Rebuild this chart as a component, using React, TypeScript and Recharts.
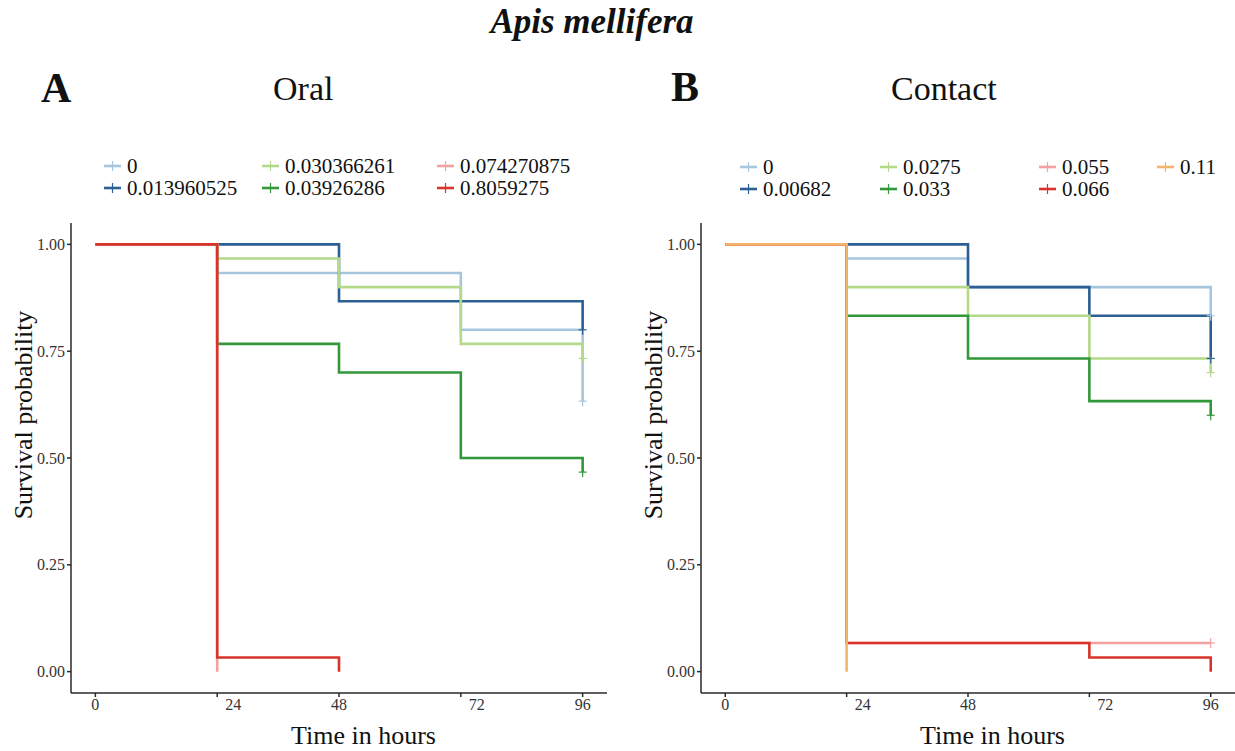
import React from "react";
import { LineChart, Line, XAxis, YAxis, Label } from "recharts";

const FONT = "'Liberation Serif', 'Times New Roman', Times, serif";

// time points (hours)
const TIME_HOURS = [0, 24, 48, 72, 96];
const SURV_TICKS = [0, 0.25, 0.5, 0.75, 1];

// A - Oral doses
const ORAL_LABELS = ["0", "0.013960525", "0.030366261", "0.03926286", "0.074270875", "0.8059275"];
const ORAL_0 = [1, 0.933, 0.933, 0.8, 0.633];
const ORAL_1 = [1, 1, 0.867, 0.867, 0.8];
const ORAL_2 = [1, 0.967, 0.9, 0.767, 0.733];
const ORAL_3 = [1, 0.767, 0.7, 0.5, 0.467];
const ORAL_4 = [1, 0, null, null, null];
const ORAL_5 = [1, 0.033, 0, null, null];

// B - Contact doses
const CONTACT_LABELS = ["0", "0.00682", "0.0275", "0.033", "0.055", "0.066", "0.11"];
const CONTACT_0 = [1, 0.967, 0.9, 0.9, 0.833];
const CONTACT_1 = [1, 1, 0.9, 0.833, 0.733];
const CONTACT_2 = [1, 0.9, 0.833, 0.733, 0.7];
const CONTACT_3 = [1, 0.833, 0.733, 0.633, 0.6];
const CONTACT_4 = [1, 0.067, 0.067, 0.067, 0.067];
const CONTACT_5 = [1, 0.067, 0.067, 0.033, 0];
const CONTACT_6 = [1, 0, null, null, null];

const COLORS = ["#a6c6de", "#2c5f93", "#b3d98a", "#32983a", "#f4a0a0", "#d8342c", "#f4b46e"];

type Series = (number | null)[];

const buildRows = (series: Series[]) =>
  TIME_HOURS.map((t, i) => {
    const row: Record<string, number | null> = { t };
    series.forEach((s, k) => {
      row["s" + k] = s[i];
    });
    return row;
  });

// censor mark ("+") at 96 h for the curves that still have survivors
const censorDot = (color: string, values: Series) => (props: any) => {
  const { cx, cy, index } = props;
  const last = values.length - 1;
  if (index !== last || values[last] == null || values[last] === 0 || cx == null) {
    return <g key={"d" + index} />;
  }
  return (
    <g key={"d" + index} stroke={color} strokeWidth={1.2}>
      <line x1={cx - 4} x2={cx + 4} y1={cy} y2={cy} />
      <line x1={cx} x2={cx} y1={cy - 5} y2={cy + 5} />
    </g>
  );
};

const TimeTick = (props: any) => {
  const { x, y, payload } = props;
  const shift = payload.value === 24 || payload.value === 72 ? 16 : 0;
  return (
    <text x={x + shift} y={y} dy="0.71em" textAnchor="middle" fontSize={16} fill="#333" fontFamily={FONT}>
      {payload.value}
    </text>
  );
};

const XTitle = (props: any) => {
  const vb = props.viewBox || { x: 71, y: 693, width: 536, height: 58 };
  return (
    <text x={vb.x + vb.width / 2 + 24.5} y={vb.y + 51} textAnchor="middle" fontSize={26} fill="#111" fontFamily={FONT}>
      Time in hours
    </text>
  );
};

const YTitle = (props: any) => {
  const vb = props.viewBox || { x: 0 };
  const x = vb.x + 32;
  const y = 415;
  return (
    <text x={x} y={y} transform={`rotate(-90, ${x}, ${y})`} textAnchor="middle" fontSize={26} fill="#111" fontFamily={FONT}>
      Survival probability
    </text>
  );
};

type PanelProps = { series: Series[]; colorIdx: number[]; left: number; width: number };

const SurvivalPanel = ({ series, colorIdx, left, width }: PanelProps) => (
  <div style={{ position: "absolute", left, top: 0 }}>
    <LineChart width={width} height={751} data={buildRows(series)} margin={{ top: 223, right: 0, bottom: 0, left: 0 }}>
      <XAxis
        dataKey="t"
        type="number"
        domain={[-4.8, 100.8]}
        ticks={TIME_HOURS}
        height={58}
        stroke="#2a2a2a"
        strokeWidth={1.5}
        tickSize={4}
        tickMargin={2}
        tick={<TimeTick />}
        tickLine={{ stroke: "#2a2a2a" }}
      >
        <Label content={<XTitle />} />
      </XAxis>
      <YAxis
        type="number"
        domain={[-0.05, 1.05]}
        ticks={SURV_TICKS}
        width={71}
        stroke="#2a2a2a"
        strokeWidth={1.5}
        tickSize={4}
        tickMargin={2}
        tickFormatter={(v: number) => v.toFixed(2)}
        tick={{ fontSize: 16, fill: "#333", fontFamily: FONT }}
      >
        <Label content={<YTitle />} />
      </YAxis>
      {series.map((s, k) => (
        <Line
          key={k}
          dataKey={"s" + k}
          type="stepAfter"
          stroke={COLORS[colorIdx[k]]}
          strokeWidth={2.6}
          dot={censorDot(COLORS[colorIdx[k]], s)}
          activeDot={false}
          isAnimationActive={false}
        />
      ))}
    </LineChart>
  </div>
);

type LegendProps = { labels: string[]; colorIdx: number[]; cols: number[]; rows: number[] };

const SurvLegend = ({ labels, colorIdx, cols, rows }: LegendProps) => (
  <g fontFamily={FONT} fontSize={21} fill="#111">
    {labels.map((lab, i) => {
      const tx = cols[Math.floor(i / 2)];
      const by = rows[i % 2];
      const ky = by - 7;
      const c = COLORS[colorIdx[i]];
      return (
        <g key={lab}>
          <line x1={tx - 23} x2={tx - 6} y1={ky} y2={ky} stroke={c} strokeWidth={2.6} />
          <line x1={tx - 14.5} x2={tx - 14.5} y1={ky - 5} y2={ky + 5} stroke={c} strokeWidth={1.2} />
          <text x={tx} y={by}>
            {lab}
          </text>
        </g>
      );
    })}
  </g>
);

const ORAL_SERIES = [ORAL_0, ORAL_1, ORAL_2, ORAL_3, ORAL_4, ORAL_5];
const CONTACT_SERIES = [CONTACT_0, CONTACT_1, CONTACT_2, CONTACT_3, CONTACT_4, CONTACT_5, CONTACT_6];

export default function App() {
  return (
    <div style={{ position: "absolute", left: 0, top: 0, width: 1235, height: 751, overflow: "hidden", background: "#fff" }}>
      <SurvivalPanel series={ORAL_SERIES} colorIdx={[0, 1, 2, 3, 4, 5]} left={0} width={607} />
      <SurvivalPanel series={CONTACT_SERIES} colorIdx={[0, 1, 2, 3, 4, 5, 6]} left={630} width={605} />
      <svg width={1235} height={751} style={{ position: "absolute", left: 0, top: 0, pointerEvents: "none" }}>
        <text x={592} y={33} textAnchor="middle" fontFamily={FONT} fontSize={35} fontWeight="bold" fontStyle="italic" fill="#111">
          Apis mellifera
        </text>
        <text x={41} y={102} fontFamily={FONT} fontSize={42} fontWeight="bold" fill="#111">A</text>
        <text x={273} y={100} fontFamily={FONT} fontSize={34} fill="#111">Oral</text>
        <text x={671} y={101} fontFamily={FONT} fontSize={42} fontWeight="bold" fill="#111">B</text>
        <text x={891} y={100} fontFamily={FONT} fontSize={34} fill="#111">Contact</text>
        <SurvLegend labels={ORAL_LABELS} colorIdx={[0, 1, 2, 3, 4, 5]} cols={[127, 285, 460]} rows={[173, 195]} />
        <SurvLegend labels={CONTACT_LABELS} colorIdx={[0, 1, 2, 3, 4, 5, 6]} cols={[763, 903, 1062, 1180]} rows={[174, 196]} />
      </svg>
    </div>
  );
}
